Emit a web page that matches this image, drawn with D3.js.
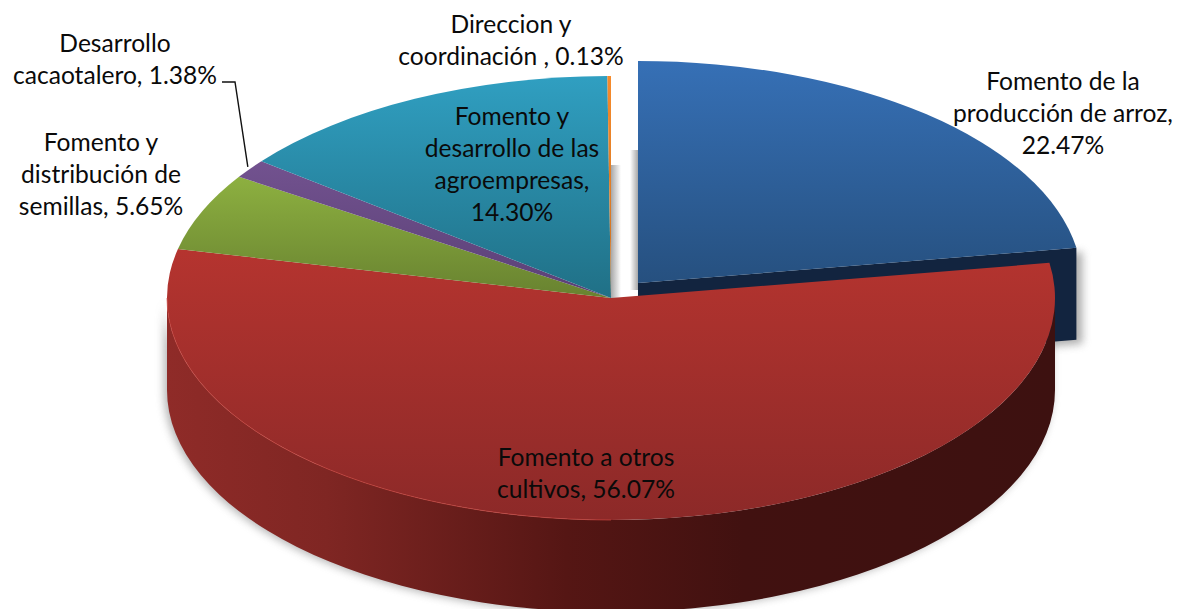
<!DOCTYPE html>
<html><head><meta charset="utf-8">
<script src="https://cdn.jsdelivr.net/npm/d3@7"></script>
<style>html,body{margin:0;background:#fff}svg{display:block}text{font-family:Lato,"Open Sans",sans-serif;font-size:24.6px;fill:#0a0a0a;text-anchor:middle}</style>
</head><body><svg id="c" width="1180" height="609"></svg>
<script>
const categories=["Fomento de la producción de arroz","Fomento a otros cultivos","Fomento y distribución de semillas","Desarrollo cacaotalero","Fomento y desarrollo de las agroempresas","Direccion y coordinación"];
const values=[22.47,56.07,5.65,1.38,14.30,0.13];
const topColors=["#3670b6","#b5342f","#8db040","#72528f","#309fc1","#f68b2c"];
const botColors=["#26507f","#8c2928","#688230","#5a4076","#207086","#c96f20"];
const labelLines=[["Fomento de la","producción de arroz,","22.47%"],["Fomento a otros","cultivos, 56.07%"],["Fomento y","distribución de","semillas, 5.65%"],["Desarrollo","cacaotalero, 1.38%"],["Fomento y","desarrollo de las","agroempresas,","14.30%"],["Direccion y","coordinación , 0.13%"]];
const labelX=[1063,586,101,115,512,511];
const labelY=[81,457,142,43,116,24];
const cx=611,cy=298,rx=444,ry=222,depth=92,explode=[27,-15];

const svg=d3.select("#c");
const defs=svg.append("defs");
const pie=d3.pie().sort(null).value(d=>d);
const arcs=pie(values);
const pt=(a,ox,oy)=>[ox+rx*Math.sin(a),oy-ry*Math.cos(a)];
const sector=(a0,a1,ox,oy)=>{const [x0,y0]=pt(a0,ox,oy),[x1,y1]=pt(a1,ox,oy);
  return `M${ox},${oy}L${x0},${y0}A${rx},${ry} 0 ${a1-a0>Math.PI?1:0} 1 ${x1},${y1}Z`;};
const wall=(a0,a1,ox,oy)=>{const [x0,y0]=pt(a0,ox,oy),[x1,y1]=pt(a1,ox,oy);
  return `M${x0},${y0}A${rx},${ry} 0 0 1 ${x1},${y1}L${x1},${y1+depth}A${rx},${ry} 0 0 0 ${x0},${y0+depth}Z`;};
const offset=i=>i==0?explode:[0,0];

const blur=defs.append("filter").attr("id","sh").attr("x","-10%").attr("y","-10%").attr("width","120%").attr("height","120%");
blur.append("feGaussianBlur").attr("stdDeviation",4);
const soft=defs.append("filter").attr("id","rim").attr("x","-2%").attr("y","-2%").attr("width","104%").attr("height","104%");
soft.append("feGaussianBlur").attr("stdDeviation",.6);

arcs.forEach((d,i)=>{
  const oy=cy+offset(i)[1];
  const crossesTop=d.startAngle<=1e-6||d.endAngle>=2*Math.PI-1e-6;
  const crossesBottom=d.startAngle<Math.PI&&d.endAngle>Math.PI;
  const y1=crossesTop?oy-ry:Math.min(pt(d.startAngle,0,oy)[1],pt(d.endAngle,0,oy)[1],oy);
  const y2=crossesBottom?oy+ry:oy;
  const g=defs.append("linearGradient").attr("id","g"+i).attr("gradientUnits","userSpaceOnUse")
    .attr("x1",0).attr("x2",0).attr("y1",y1).attr("y2",y2);
  g.append("stop").attr("offset",0).attr("stop-color",topColors[i]);
  g.append("stop").attr("offset",1).attr("stop-color",botColors[i]);});
const wg=defs.append("linearGradient").attr("id","wallG").attr("gradientUnits","userSpaceOnUse").attr("x1",cx-rx).attr("x2",cx+rx).attr("y1",0).attr("y2",0);
[[0,"#8f2b28"],[.18,"#7f2623"],[.45,"#551614"],[.65,"#411110"],[1,"#3d1110"]].forEach(s=>wg.append("stop").attr("offset",s[0]).attr("stop-color",s[1]));
const sg=defs.append("linearGradient").attr("id","gapL");
sg.append("stop").attr("offset",0).attr("stop-color","#a8a8a8");sg.append("stop").attr("offset",1).attr("stop-color","#fff");
const sg2=defs.append("linearGradient").attr("id","gapR");
sg2.append("stop").attr("offset",0).attr("stop-color","#fff");sg2.append("stop").attr("offset",1).attr("stop-color","#a8a8a8");

const bx=cx+explode[0],by=cy+explode[1],blue=arcs[0];
const [bex,bey]=pt(blue.endAngle,bx,by);
const cutFace=`M${bx},${by}L${bex},${bey}L${bex},${bey+depth}L${bx},${by+depth}Z`;
// soft shadows
svg.append("path").attr("d",wall(Math.PI/2,1.5*Math.PI,cx-3,cy+1)).attr("fill","#777").attr("filter","url(#sh)").attr("opacity",.55);
svg.append("path").attr("d",cutFace).attr("transform","translate(6,4)").attr("fill","#777").attr("filter","url(#sh)").attr("opacity",.6);
svg.append("rect").attr("x",cx).attr("y",cy-133).attr("width",10).attr("height",133).attr("fill","url(#gapL)");
svg.append("rect").attr("x",bx-8).attr("y",by-133).attr("width",8).attr("height",140).attr("fill","url(#gapR)");

// blue exploded slice
svg.append("path").attr("d",cutFace).attr("fill","#12243f");
svg.append("path").attr("d",sector(blue.startAngle,blue.endAngle,bx,by)).attr("fill","url(#g0)");
// red wall
svg.append("path").attr("d",wall(Math.PI/2,1.5*Math.PI,cx,cy)).attr("fill","url(#wallG)");
// top faces
arcs.forEach((d,i)=>{if(i==0)return;
  svg.append("path").attr("d",sector(d.startAngle,d.endAngle,cx,cy)).attr("fill",`url(#g${i})`);});
// light rim on red
const [r0x,r0y]=pt(1.5*Math.PI,cx,cy),[r1x,r1y]=pt(Math.PI,cx,cy);
svg.append("path").attr("d",`M${r0x},${r0y}A${rx},${ry} 0 0 0 ${r1x},${r1y}`).attr("fill","none").attr("stroke","#c8453f").attr("stroke-width",1).attr("opacity",.7).attr("filter","url(#rim)");
// leader line
const mid=(arcs[3].startAngle+arcs[3].endAngle)/2,[lx,ly]=pt(mid,cx,cy);
svg.append("path").attr("d",d3.line()([[222,82],[235,82],[lx-2,ly-2]])).attr("fill","none").attr("stroke","#111").attr("stroke-width",1.4);
// labels
labelLines.forEach((ls,i)=>{const t=svg.append("text");
  ls.forEach((s,j)=>t.append("tspan").attr("x",labelX[i]).attr("y",labelY[i]+j*32).attr("dy","0.35em").text(s));});
</script></body></html>
